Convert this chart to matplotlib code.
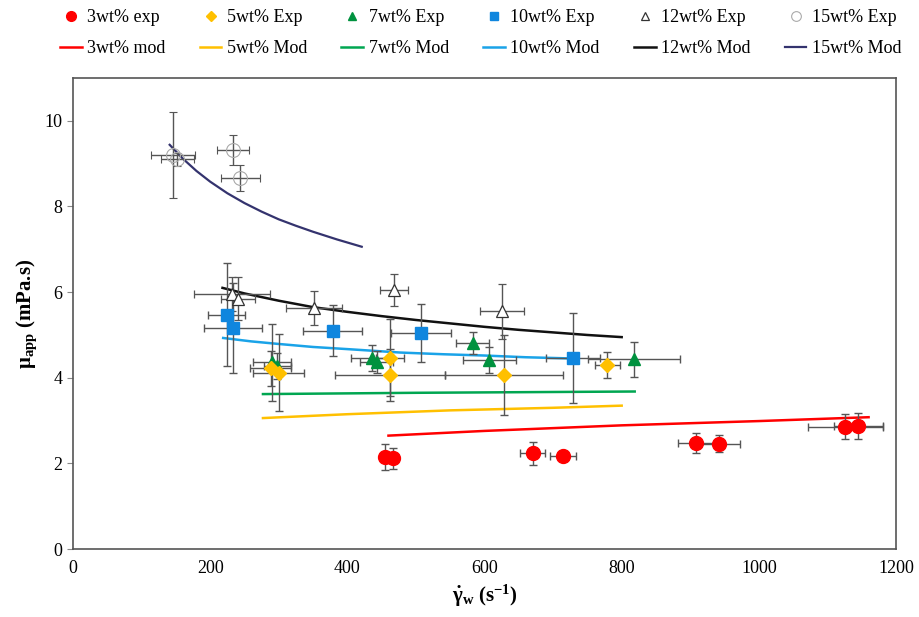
import matplotlib
matplotlib.use("Agg")
from matplotlib import pyplot as plt

plt.rcParams['font.family'] = ['Liberation Serif', 'DejaVu Serif']
plt.rcParams['mathtext.fontset'] = 'custom'
plt.rcParams['mathtext.rm'] = 'Liberation Serif'
plt.rcParams['mathtext.it'] = 'Liberation Serif:italic'
plt.rcParams['mathtext.bf'] = 'Liberation Serif:bold'

# experimental points (x, y, x error, y error)
x3 = [455, 466, 670, 715, 909, 942, 1126, 1145]
y3 = [2.15, 2.12, 2.24, 2.17, 2.48, 2.46, 2.86, 2.88]
xe3 = [8, 8, 18, 19, 27, 30, 55, 36]
ye3 = [0.3, 0.25, 0.27, 0.1, 0.23, 0.2, 0.3, 0.3]

x5 = [288, 300, 462, 462, 628, 779]
y5 = [4.22, 4.12, 4.47, 4.07, 4.07, 4.30]
xe5 = [30, 37, 20, 80, 86, 18]
ye5 = [0.4, 0.9, 0.9, 0.6, 0.94, 0.3]

x7 = [290, 298, 436, 443, 583, 607, 818]
y7 = [4.36, 4.27, 4.46, 4.37, 4.81, 4.42, 4.43]
xe7 = [28, 20, 30, 24, 24, 39, 67]
ye7 = [0.9, 0.3, 0.3, 0.25, 0.25, 0.3, 0.4]

x10 = [224, 233, 379, 507, 729]
y10 = [5.47, 5.16, 5.10, 5.05, 4.46]
xe10 = [27, 42, 43, 44, 40]
ye10 = [1.2, 1.05, 0.6, 0.68, 1.05]

x12 = [232, 241, 351, 468, 625]
y12 = [5.95, 5.85, 5.63, 6.05, 5.55]
xe12 = [55, 25, 41, 21, 32]
ye12 = [0.4, 0.5, 0.39, 0.37, 0.65]

x15 = [146, 152, 233, 244]
y15 = [9.2, 9.1, 9.32, 8.67]
xe15 = [32, 24, 23, 28]
ye15 = [1.0, 0.15, 0.35, 0.31]

# model curves
mx3 = [460, 600, 800, 1000, 1160]
my3 = [2.65, 2.76, 2.89, 2.99, 3.08]
mx5 = [277, 400, 550, 700, 800]
my5 = [3.06, 3.15, 3.24, 3.30, 3.35]
mx7 = [277, 500, 819]
my7 = [3.62, 3.65, 3.68]
mx10 = [219, 260, 300, 350, 400, 477, 540, 600, 660, 730]
my10 = [4.93, 4.85, 4.79, 4.72, 4.67, 4.59, 4.55, 4.52, 4.48, 4.45]
mx12 = [218, 250, 300, 350, 400, 450, 500, 550, 600, 650, 700, 750, 800]
my12 = [6.10, 5.97, 5.80, 5.65, 5.54, 5.44, 5.35, 5.27, 5.19, 5.12, 5.06, 5.00, 4.95]
mx15 = [141, 160, 180, 200, 225, 250, 275, 300, 325, 350, 385, 421]
my15 = [9.44, 9.12, 8.83, 8.58, 8.31, 8.08, 7.88, 7.70, 7.55, 7.41, 7.23, 7.06]

fig = plt.figure(figsize=(9.19, 6.17), dpi=100)
ax = fig.add_axes([0.0794, 0.110, 0.8956, 0.7636])

eb = dict(ecolor='#555555', elinewidth=1, capsize=3, capthick=1, linestyle='none')

h = {}
h['m15'], = ax.plot(mx15, my15, color='#34336e', lw=1.6)
h['m12'], = ax.plot(mx12, my12, color='#111111', lw=1.8)
h['m10'], = ax.plot(mx10, my10, color='#1aa3e8', lw=1.8)
h['m7'], = ax.plot(mx7, my7, color='#00a651', lw=1.8)
h['m5'], = ax.plot(mx5, my5, color='#ffc000', lw=1.8)
h['m3'], = ax.plot(mx3, my3, color='#ff0000', lw=1.8)

h['e15'] = ax.errorbar(x15, y15, xerr=xe15, yerr=ye15, marker='o', ms=10, mfc='none',
                       mec='#aaaaaa', mew=0.8, **eb)
h['e12'] = ax.errorbar(x12, y12, xerr=xe12, yerr=ye12, marker='^', ms=9, mfc='white',
                       mec='#333333', mew=0.9, **eb)
h['e10'] = ax.errorbar(x10, y10, xerr=xe10, yerr=ye10, marker='s', ms=9, mfc='#0f86de',
                       mec='#0f86de', **eb)
h['e7'] = ax.errorbar(x7, y7, xerr=xe7, yerr=ye7, marker='^', ms=9, mfc='#00923f',
                      mec='#00923f', **eb)
h['e5'] = ax.errorbar(x5, y5, xerr=xe5, yerr=ye5, marker='D', ms=7, mfc='#ffc000',
                      mec='#ffc000', **eb)
h['e3'] = ax.errorbar(x3, y3, xerr=xe3, yerr=ye3, marker='o', ms=10, mfc='#ff0000',
                      mec='#ff0000', **eb)

ax.set_xlim(0, 1200)
ax.set_ylim(0, 11)
ax.set_xticks(range(0, 1201, 200))
ax.set_yticks(range(0, 11, 2))
ax.tick_params(axis='x', length=0, pad=8, labelsize=13)
ax.tick_params(axis='y', length=4, color='#888888', labelsize=13)
for s in ax.spines.values():
    s.set_color('#555555')
    s.set_linewidth(1.2)

ax.set_xlabel(r'$\mathbf{\dot{\gamma}_{w}}$ (s$^{\mathbf{-1}}$)', fontsize=15, fontweight='bold')
ax.set_ylabel(r'$\mathbf{\mu_{app}}$ (mPa.s)', fontsize=15, fontweight='bold')

# legend: 6 columns, exp row on top, model row below
order = ['e3', 'm3', 'e5', 'm5', 'e7', 'm7', 'e10', 'm10', 'e12', 'm12', 'e15', 'm15']
labels = {'e3': '3wt% exp', 'm3': '3wt% mod', 'e5': '5wt% Exp', 'm5': '5wt% Mod',
          'e7': '7wt% Exp', 'm7': '7wt% Mod', 'e10': '10wt% Exp', 'm10': '10wt% Mod',
          'e12': '12wt% Exp', 'm12': '12wt% Mod', 'e15': '15wt% Exp', 'm15': '15wt% Mod'}
leg_handles = []
for k in order:
    hh = h[k]
    if k.startswith('e'):
        hh = hh[0]
    leg_handles.append(hh)
fig.legend(leg_handles, [labels[k] for k in order], loc='upper center',
           bbox_to_anchor=(0.523, 1.012), ncol=6, frameon=False, fontsize=13,
           handlelength=1.2, handletextpad=0.3, columnspacing=1.9, labelspacing=0.8,
           markerscale=0.7)

fig.savefig('out.png', dpi=100)
